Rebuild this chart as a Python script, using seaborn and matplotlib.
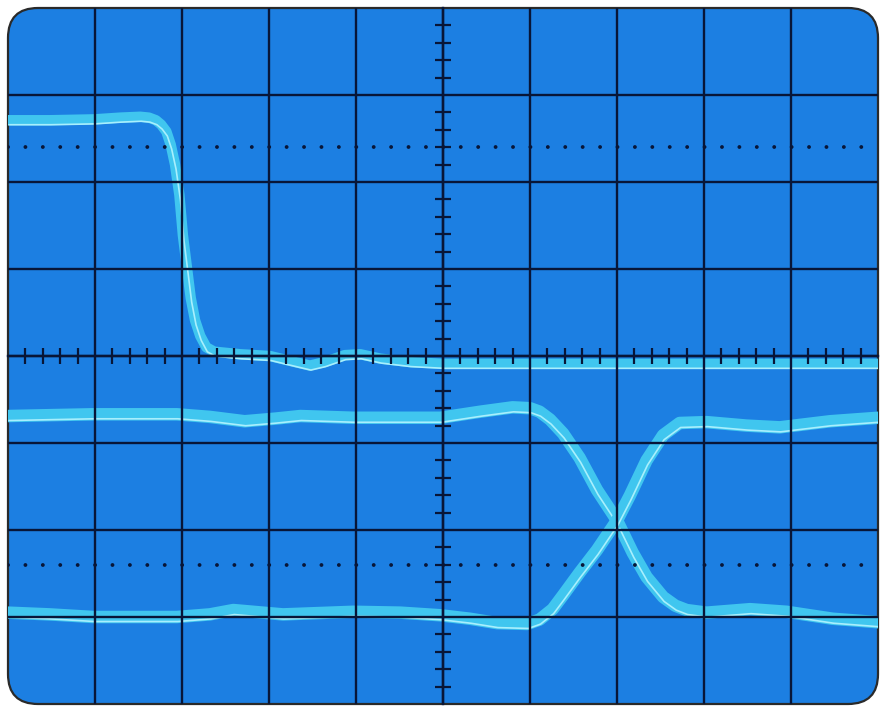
import numpy as np
import pandas as pd
import seaborn as sns
import matplotlib.pyplot as plt
from matplotlib.patches import FancyBboxPatch
from matplotlib.ticker import FixedLocator
from matplotlib.transforms import ScaledTranslation

# trace values (x, y in divisions)
step_x = [0, 0.48, 0.99, 1.29, 1.52, 1.62, 1.70, 1.76, 1.82, 1.87, 1.92, 1.97, 2.01, 2.06, 2.10, 2.15,
          2.21, 2.28, 2.37, 2.67, 3.01, 3.30, 3.47, 3.64, 3.87, 4.05, 4.28, 4.62, 5.00, 6.80, 10.0]
step_y = [2.71, 2.71, 2.72, 2.74, 2.75, 2.74, 2.71, 2.66, 2.58, 2.43, 2.20, 1.85, 1.39, 0.99, 0.67, 0.41,
          0.23, 0.10, 0.05, 0.02, 0.00, -0.07, -0.11, -0.07, 0.01, 0.02, -0.03, -0.07, -0.09, -0.09, -0.09]

# eye pattern, trace going high -> low
eye_a_x = [0, 0.48, 0.98, 1.52, 1.94, 2.32, 2.72, 3.07, 3.36, 3.97, 4.51, 4.97, 5.43, 5.80, 6.00, 6.11,
           6.23, 6.38, 6.57, 6.77, 7.00, 7.18, 7.34, 7.53, 7.67, 7.80, 8.03, 8.53, 8.95, 9.48, 10.0]
eye_a_y = [-0.69, -0.68, -0.67, -0.67, -0.67, -0.70, -0.75, -0.72, -0.69, -0.71, -0.71, -0.71, -0.64,
           -0.59, -0.60, -0.64, -0.73, -0.89, -1.17, -1.54, -1.89, -2.26, -2.54, -2.77, -2.87, -2.92,
           -2.95, -2.91, -2.94, -3.02, -3.06]

# eye pattern, trace going low -> high
eye_b_x = [0, 0.48, 0.98, 1.52, 1.94, 2.32, 2.59, 3.16, 3.97, 4.51, 4.97, 5.31, 5.62, 5.97, 6.11, 6.26,
           6.38, 6.57, 6.77, 7.00, 7.15, 7.34, 7.53, 7.72, 8.03, 8.49, 8.87, 9.45, 10.0]
eye_b_y = [-2.95, -2.97, -3.00, -3.00, -3.00, -2.97, -2.92, -2.97, -2.94, -2.95, -2.98, -3.02, -3.07,
           -3.08, -3.03, -2.91, -2.75, -2.49, -2.23, -1.89, -1.60, -1.20, -0.91, -0.77, -0.76, -0.80,
           -0.82, -0.75, -0.71]

screen_blue = '#1c7fe2'
grat = '#081638'
trace_col = '#40c6ef'
trace_hi = '#a8effd'

sns.set_style('white')
plt.rcParams['lines.scale_dashes'] = False

fig = plt.figure(figsize=(8.82, 7.12), dpi=100)
ax = fig.add_axes([8 / 882, 8 / 712, 870 / 882, 696 / 712])
ax.patch.set_visible(False)

# rounded screen
screen = FancyBboxPatch((0.08, 0.08), 8.70, 6.96, boxstyle='round,pad=0,rounding_size=0.3',
                        transform=fig.dpi_scale_trans, facecolor=screen_blue,
                        edgecolor='#2a2a2a', lw=1.6, zorder=0, clip_on=False)
ax.add_patch(screen)

ax.set_xlim(0, 10)
ax.set_ylim(-4, 4)

# graticule: 10 x 8 divisions, 5 subdivisions on the centre lines
ax.xaxis.set_major_locator(FixedLocator(range(1, 10)))
ax.yaxis.set_major_locator(FixedLocator(range(-3, 4)))
ax.xaxis.set_minor_locator(FixedLocator(np.arange(0.2, 9.9, 0.2)))
ax.yaxis.set_minor_locator(FixedLocator(np.arange(-3.8, 3.9, 0.2)))
ax.set_axisbelow(False)
ax.grid(True, which='major', color=grat, lw=1.7)
ax.tick_params(which='both', bottom=True, left=True, top=False, right=False,
               labelbottom=False, labelleft=False)
ax.tick_params(which='major', length=0)
ax.tick_params(which='minor', direction='inout', length=12, width=1.6, color=grat)
ax.spines['left'].set_position(('data', 5))
ax.spines['bottom'].set_position(('data', 0))
for s in ['left', 'bottom']:
    ax.spines[s].set_color(grat)
    ax.spines[s].set_linewidth(1.7)
    ax.spines[s].set_zorder(2.6)
for s in ['top', 'right']:
    ax.spines[s].set_visible(False)

# dotted 10% / 90% lines
for yv in [2.4, -2.4]:
    ax.axhline(yv, color=grat, lw=2.8, linestyle=(0, (0.01, 12.528)),
               dash_capstyle='round', zorder=2.6)

# traces
shift = ax.transData + ScaledTranslation(0.01, -0.045, fig.dpi_scale_trans)
for xs, ys, w in [(step_x, step_y, 7.5), (eye_a_x, eye_a_y, 9), (eye_b_x, eye_b_y, 9)]:
    df = pd.DataFrame({'x': xs, 'y': ys})
    sns.lineplot(data=df, x='x', y='y', ax=ax, color=trace_col, linewidth=w,
                 sort=False, estimator=None, solid_capstyle='round', solid_joinstyle='round')
    ax.lines[-1].set_clip_path(screen)
    sns.lineplot(data=df, x='x', y='y', ax=ax, color=trace_hi, linewidth=1.2,
                 sort=False, estimator=None, solid_joinstyle='round')
    ax.lines[-1].set_transform(shift)
    ax.lines[-1].set_clip_path(screen)

ax.set_xlabel('')
ax.set_ylabel('')
fig.savefig('out.png', dpi=100, facecolor='white')
